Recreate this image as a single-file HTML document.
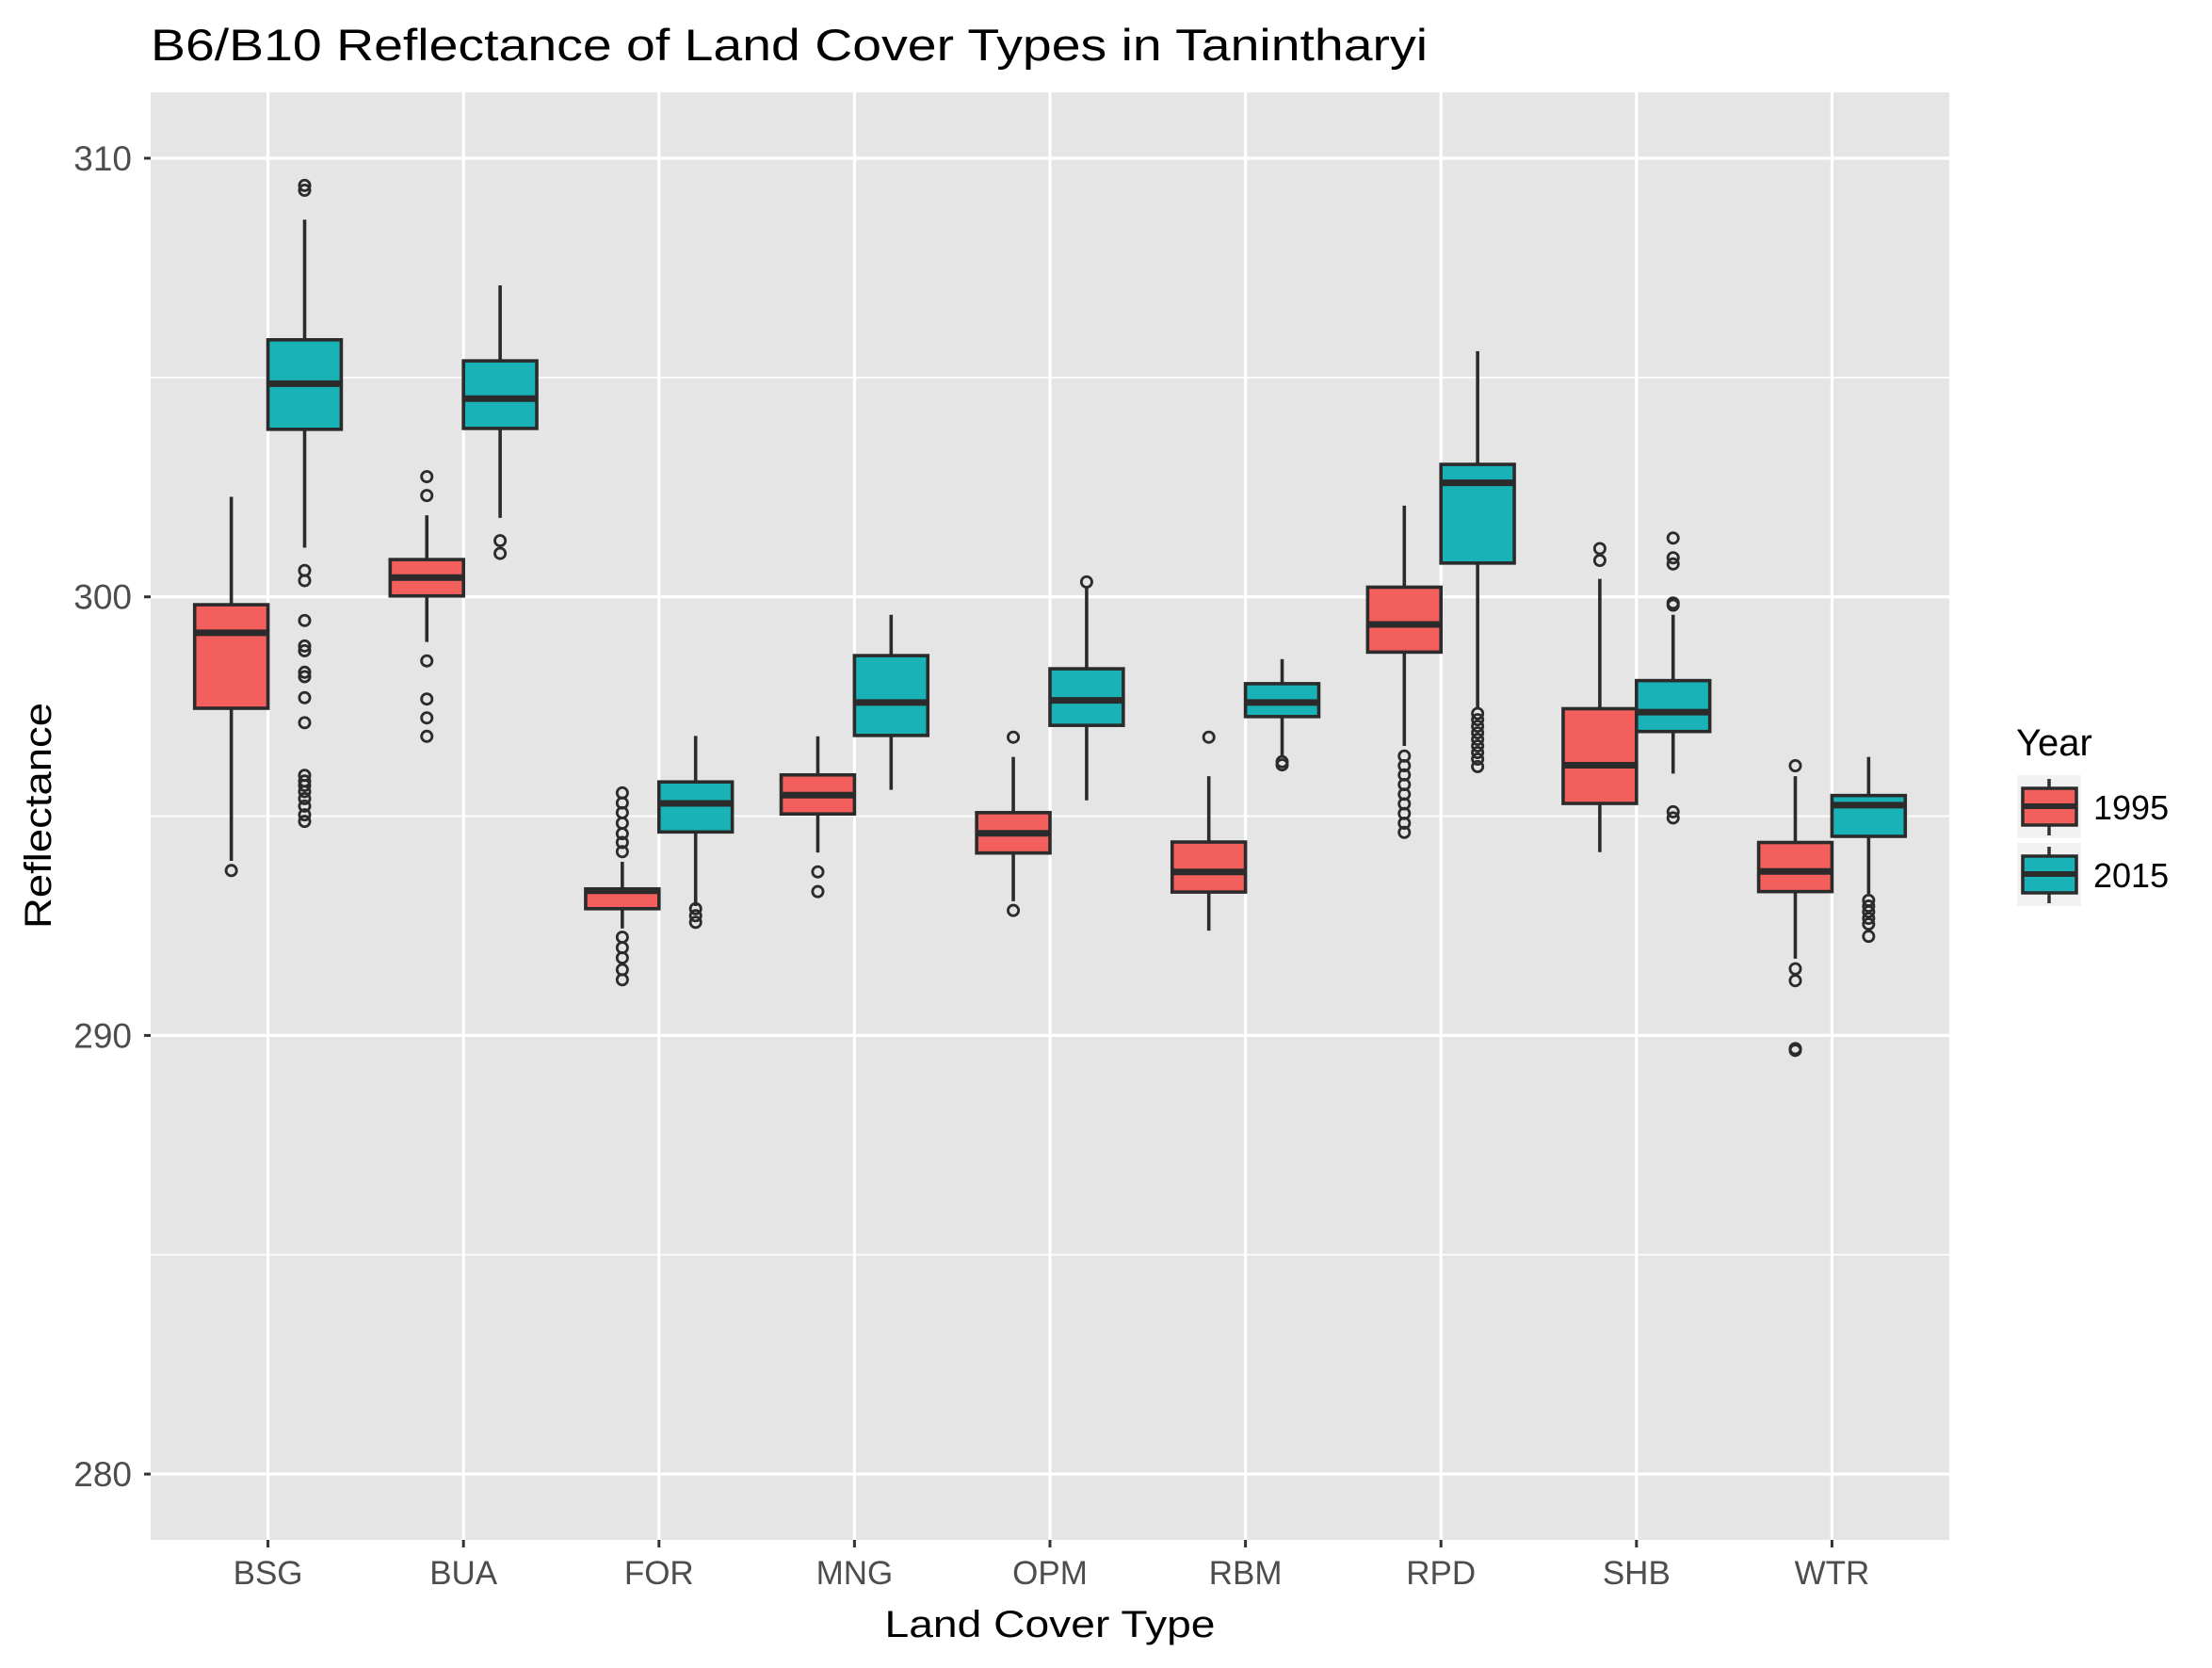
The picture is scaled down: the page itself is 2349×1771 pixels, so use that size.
<!DOCTYPE html>
<html><head><meta charset="utf-8"><style>html,body{margin:0;padding:0;background:#fff}svg{display:block}text{font-family:"Liberation Sans",Arial,sans-serif}</style></head>
<body>
<svg id="chart" width="2349" height="1771" viewBox="0 0 2349 1771" xmlns="http://www.w3.org/2000/svg">
<text x="160" y="64" font-size="47" fill="#000" textLength="1356" lengthAdjust="spacingAndGlyphs">B6/B10 Reflectance of Land Cover Types in Tanintharyi</text>
<rect x="160" y="98" width="1910" height="1537" fill="#e5e5e5"/>
<g id="grid"></g><g id="marks"></g><g id="axes"></g>
<text x="1115" y="1738" font-size="40" text-anchor="middle" fill="#000" textLength="351" lengthAdjust="spacingAndGlyphs">Land Cover Type</text>
<text transform="translate(54,866) rotate(-90)" font-size="40" text-anchor="middle" fill="#000" textLength="240" lengthAdjust="spacingAndGlyphs">Reflectance</text>
<g>
<text x="2141" y="802" font-size="40" fill="#000">Year</text>
<rect x="2142" y="823" width="68" height="67" fill="#f2f2f2"/>
<line x1="2176" y1="827" x2="2176" y2="887" stroke="#333" stroke-width="3.5"/>
<rect x="2148" y="837" width="57" height="39" fill="#F25F5C" stroke="#2b2b2b" stroke-width="3.5"/>
<line x1="2148" y1="856" x2="2205" y2="856" stroke="#2b2b2b" stroke-width="6"/>
<text x="2223" y="870" font-size="36" fill="#000">1995</text>
<rect x="2142" y="895" width="68" height="67" fill="#f2f2f2"/>
<line x1="2176" y1="899" x2="2176" y2="959" stroke="#333" stroke-width="3.5"/>
<rect x="2148" y="909" width="57" height="39" fill="#19B3B7" stroke="#2b2b2b" stroke-width="3.5"/>
<line x1="2148" y1="928" x2="2205" y2="928" stroke="#2b2b2b" stroke-width="6"/>
<text x="2223" y="942" font-size="36" fill="#000">2015</text>
</g>
</svg>
<script>
const categories=["BSG","BUA","FOR","MNG","OPM","RBM","RPD","SHB","WTR"];
const years=["1995","2015"];
const yTicks=[280,290,300,310];
const yMinor=[285,295,305];
// [lowerWhisker, Q1, median, Q3, upperWhisker]
const stats1995=[[293.98,297.46,299.18,299.82,302.28],[298.97,300.02,300.44,300.85,301.86],[292.44,292.89,293.3,293.34,293.96],[294.17,295.05,295.48,295.94,296.82],[293.06,294.16,294.61,295.08,296.35],[292.39,293.27,293.73,294.41,295.91],[296.6,298.74,299.37,300.22,302.08],[294.18,295.29,296.16,297.45,300.41],[291.75,293.28,293.74,294.4,295.91]];
const stats2015=[[301.12,303.82,304.86,305.86,308.6],[301.8,303.84,304.52,305.38,307.1],[292.95,294.64,295.29,295.78,296.83],[295.6,296.84,297.59,298.66,299.59],[295.36,297.07,297.64,298.36,300.25],[296.35,297.27,297.59,298.02,298.58],[297.46,300.77,302.6,303.02,305.6],[295.97,296.93,297.37,298.09,299.59],[293.23,294.54,295.25,295.47,296.35]];
const outliers1995=[[293.76],[302.74,302.31,298.54,297.67,297.24,296.82],[295.53,295.3,295.08,294.84,294.6,294.4,294.19,292.24,292.0,291.77,291.5,291.27],[293.73,293.28],[296.8,292.85],[296.8],[296.37,296.15,295.94,295.72,295.5,295.28,295.06,294.84,294.63],[301.1,300.83],[296.15,291.52,291.25,289.7,289.66]];
const outliers2015=[[309.38,309.27,300.6,300.37,299.46,298.88,298.77,298.28,298.18,297.7,297.13,295.93,295.8,295.7,295.56,295.4,295.23,295.03,294.88],[301.28,300.99],[292.89,292.73,292.58],[],[300.34],[296.24,296.17],[297.34,297.2,297.05,296.9,296.75,296.6,296.45,296.3,296.13],[301.34,300.89,300.75,299.86,299.81,295.1,294.96],[293.08,292.95,292.82,292.67,292.54,292.26]];
const fills={"1995":"#F25F5C","2015":"#19B3B7"};
const NS="http://www.w3.org/2000/svg";
const PX0=160,PX1=2070,PY0=98,PY1=1635;
const step=(PX1-PX0)/(categories.length+0.2);
function xScale(i){return PX0+(i+0.6)*step;}
function yScale(v){return 168+(310-v)*46.57;}
function mk(tag,attrs,parent){const e=document.createElementNS(NS,tag);for(const k in attrs)e.setAttribute(k,attrs[k]);parent.appendChild(e);return e;}
const grid=document.getElementById('grid'),marks=document.getElementById('marks'),axes=document.getElementById('axes');
yMinor.forEach(v=>{const l=mk('line',{x1:PX0,x2:PX1,y1:yScale(v),y2:yScale(v),stroke:'#fff','stroke-width':1.6},grid);

});
yTicks.forEach(v=>{const y=yScale(v);
const l=mk('line',{x1:PX0,x2:PX1,y1:y,y2:y,stroke:'#fff','stroke-width':3.2},grid);


const t=mk('line',{x1:PX0-7,x2:PX0,y1:y,y2:y,stroke:'#333','stroke-width':3},axes);


const tx=mk('text',{x:PX0-20,y:y+13,'font-size':37,'text-anchor':'end',fill:'#4d4d4d'},axes);tx.textContent=v;

});
categories.forEach((c,i)=>{const x=xScale(i);
const l=mk('line',{x1:x,x2:x,y1:PY0,y2:PY1,stroke:'#fff','stroke-width':3.2},grid);


const t=mk('line',{x1:x,x2:x,y1:PY1,y2:PY1+8,stroke:'#333','stroke-width':3},axes);


const tx=mk('text',{x:x,y:1682,'font-size':35,'text-anchor':'middle',fill:'#4d4d4d'},axes);tx.textContent=c;

});
const bw=step*0.75/2;
function drawBox(i,yr,s,outs,off){
const cx=xScale(i)+off*bw/2;
const g=mk('g',{},marks);


mk('line',{x1:cx,x2:cx,y1:yScale(s[4]),y2:yScale(s[3]),stroke:'#2b2b2b','stroke-width':3.6},g);
mk('line',{x1:cx,x2:cx,y1:yScale(s[1]),y2:yScale(s[0]),stroke:'#2b2b2b','stroke-width':3.6},g);
mk('rect',{x:cx-bw/2,y:yScale(s[3]),width:bw,height:Math.max(1,yScale(s[1])-yScale(s[3])),fill:fills[yr],stroke:'#2b2b2b','stroke-width':3.6},g);
mk('line',{x1:cx-bw/2,x2:cx+bw/2,y1:yScale(s[2]),y2:yScale(s[2]),stroke:'#2b2b2b','stroke-width':7},g);
outs.forEach(v=>{const o=mk('circle',{cx:cx,cy:yScale(v),r:5.6,fill:'none',stroke:'#2b2b2b','stroke-width':2.8},g);

});}
categories.forEach((c,i)=>{drawBox(i,'1995',stats1995[i],outliers1995[i],-1);drawBox(i,'2015',stats2015[i],outliers2015[i],1);});
</script>
</body></html>
